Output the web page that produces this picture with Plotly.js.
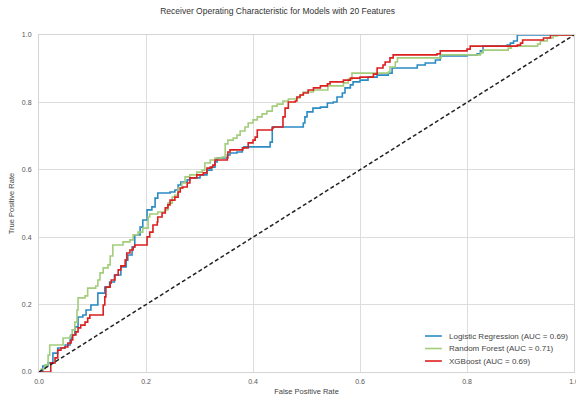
<!DOCTYPE html>
<html>
<head>
<meta charset="utf-8">
<script src="https://cdn.plot.ly/plotly-3.0.1.min.js"></script>
<style>html,body{margin:0;padding:0;background:#fff;}#chart{width:576px;height:402px;}</style>
</head>
<body>
<div id="chart"></div>
<script>
// Logistic Regression ROC
const lrFpr = [0.0,0.007,0.017,0.026,0.035,0.049,0.058,0.060,0.067,0.073,0.082,0.088,0.097,0.110,0.123,0.132,0.141,0.153,0.163,0.166,0.174,0.179,0.189,0.194,0.202,0.211,0.217,0.222,0.245,0.254,0.260,0.265,0.277,0.282,0.301,0.314,0.323,0.329,0.333,0.352,0.357,0.370,0.380,0.383,0.423,0.432,0.436,0.484,0.494,0.497,0.501,0.512,0.526,0.539,0.550,0.557,0.567,0.572,0.582,0.587,0.600,0.615,0.632,0.653,0.660,0.700,0.707,0.722,0.741,0.750,0.800,0.819,0.825,0.830,0.875,0.881,0.887,0.894,1.0];
const lrTpr = [0.0,0.018,0.027,0.056,0.071,0.080,0.095,0.110,0.134,0.163,0.169,0.184,0.199,0.234,0.252,0.267,0.288,0.312,0.332,0.347,0.371,0.407,0.430,0.451,0.481,0.490,0.516,0.531,0.534,0.540,0.555,0.564,0.570,0.576,0.585,0.599,0.608,0.623,0.635,0.644,0.650,0.653,0.665,0.668,0.668,0.682,0.727,0.727,0.739,0.757,0.772,0.783,0.786,0.798,0.801,0.816,0.828,0.843,0.852,0.861,0.866,0.875,0.881,0.887,0.902,0.902,0.911,0.917,0.926,0.938,0.941,0.944,0.953,0.967,0.970,0.976,0.982,1.0,1.0];
// Random Forest ROC
const rfFpr = [0.0,0.004,0.011,0.017,0.020,0.043,0.045,0.058,0.062,0.067,0.071,0.073,0.086,0.091,0.106,0.110,0.114,0.120,0.129,0.133,0.138,0.157,0.170,0.176,0.185,0.194,0.204,0.207,0.222,0.236,0.241,0.249,0.254,0.260,0.267,0.273,0.282,0.295,0.305,0.310,0.320,0.329,0.342,0.348,0.353,0.363,0.370,0.376,0.385,0.391,0.400,0.408,0.417,0.426,0.436,0.445,0.456,0.466,0.482,0.488,0.494,0.513,0.537,0.540,0.569,0.578,0.585,0.653,0.656,0.666,0.670,0.744,0.752,0.788,0.825,0.830,0.877,0.883,0.932,0.937,0.950,0.961,0.969,1.0];
const rfTpr = [0.0,0.009,0.021,0.050,0.080,0.080,0.101,0.107,0.125,0.148,0.184,0.220,0.226,0.249,0.255,0.273,0.294,0.309,0.318,0.344,0.377,0.386,0.392,0.407,0.415,0.427,0.460,0.469,0.475,0.481,0.501,0.519,0.525,0.546,0.561,0.579,0.585,0.593,0.599,0.620,0.629,0.635,0.638,0.677,0.688,0.694,0.703,0.715,0.727,0.739,0.748,0.757,0.766,0.774,0.789,0.795,0.804,0.810,0.813,0.822,0.831,0.837,0.837,0.849,0.858,0.869,0.887,0.890,0.905,0.920,0.932,0.932,0.941,0.941,0.947,0.955,0.961,0.967,0.973,0.982,0.991,0.997,1.0,1.0];
// XGBoost ROC
const xgFpr = [0.0,0.020,0.022,0.030,0.035,0.041,0.048,0.054,0.060,0.063,0.069,0.073,0.078,0.086,0.091,0.095,0.118,0.120,0.123,0.125,0.133,0.135,0.142,0.148,0.153,0.161,0.164,0.170,0.176,0.179,0.200,0.202,0.207,0.213,0.221,0.222,0.230,0.236,0.241,0.245,0.254,0.260,0.264,0.269,0.277,0.282,0.295,0.307,0.314,0.320,0.325,0.329,0.352,0.353,0.357,0.381,0.391,0.400,0.404,0.408,0.436,0.438,0.453,0.456,0.460,0.466,0.479,0.482,0.488,0.494,0.503,0.513,0.526,0.539,0.544,0.569,0.582,0.600,0.625,0.632,0.643,0.647,0.656,0.662,0.744,0.750,0.800,0.806,0.894,0.900,0.904,0.943,0.956,1.0];
const xgTpr = [0.0,0.0,0.027,0.042,0.065,0.071,0.074,0.086,0.095,0.110,0.119,0.131,0.139,0.148,0.160,0.169,0.169,0.199,0.223,0.252,0.264,0.273,0.288,0.303,0.315,0.332,0.353,0.362,0.371,0.377,0.377,0.401,0.415,0.436,0.445,0.460,0.472,0.487,0.496,0.510,0.519,0.534,0.546,0.549,0.561,0.576,0.585,0.591,0.605,0.608,0.614,0.629,0.635,0.653,0.659,0.665,0.680,0.688,0.697,0.718,0.724,0.727,0.727,0.757,0.783,0.801,0.804,0.816,0.822,0.828,0.837,0.843,0.849,0.855,0.861,0.866,0.872,0.875,0.884,0.902,0.911,0.920,0.932,0.941,0.944,0.953,0.958,0.967,0.970,0.976,0.985,0.991,1.0,1.0];
const chanceX = [0, 1];
const chanceY = [0, 1];
const names = ['Logistic Regression (AUC = 0.69)', 'Random Forest (AUC = 0.71)', 'XGBoost (AUC = 0.69)'];
const xTicks = [0, 0.2, 0.4, 0.6, 0.8, 1.0];
const yTicks = [0, 0.2, 0.4, 0.6, 0.8, 1.0];

const FONT = 'Liberation Sans, Arial, sans-serif';
const colors = ['#2b8bc3', '#a3cd7c', '#dc1f1f'];
const series = [[lrFpr, lrTpr], [rfFpr, rfTpr], [xgFpr, xgTpr]];
const traces = series.map((s, i) => ({
  x: s[0], y: s[1], name: names[i], mode: 'lines', showlegend: false,
  line: {color: colors[i], width: 1.6, shape: 'hv'}
}));
traces.push({x: chanceX, y: chanceY, mode: 'lines', showlegend: false, line: {color: '#222', width: 1.5, dash: '4px,2.5px'}});

// compact legend (matplotlib-like spacing), built from names/colors
const legX0 = 0.7215, legX1 = 0.753, legTextX = 0.7626, legY0 = 0.1068, legStep = 0.0371;
const shapes = names.map((n, i) => ({
  type: 'line', xref: 'paper', yref: 'paper',
  x0: legX0, x1: legX1, y0: legY0 - i * legStep, y1: legY0 - i * legStep,
  line: {color: colors[i], width: 1.6}
}));
const annotations = names.map((n, i) => ({
  text: n, xref: 'paper', yref: 'paper', x: legTextX, y: legY0 - i * legStep,
  xanchor: 'left', yanchor: 'middle', showarrow: false,
  font: {family: FONT, size: 8, color: '#444'}
}));

const axisCommon = {
  range: [0, 1], showgrid: true, gridcolor: '#dddddd', gridwidth: 1,
  zeroline: false, showline: true, linecolor: '#d4d4d4', linewidth: 1, mirror: true,
  ticks: '', tickfont: {family: FONT, size: 7, color: '#555'},
  tickformat: '.1f', ticklabeloverflow: 'allow'
};
const layout = {
  width: 576, height: 402,
  margin: {l: 39, r: 2, t: 35, b: 30},
  paper_bgcolor: '#fff', plot_bgcolor: '#fff',
  title: {text: 'Receiver Operating Characteristic for Models with 20 Features', x: 0.482, xanchor: 'center', y: 0.972, yanchor: 'middle', font: {family: FONT, size: 8.5, color: '#333'}},
  xaxis: Object.assign({}, axisCommon, {tickvals: xTicks, ticklabelstandoff: 3, title: {text: 'False Positive Rate', standoff: 4, font: {family: FONT, size: 7.5, color: '#444'}}}),
  yaxis: Object.assign({}, axisCommon, {tickvals: yTicks, ticklabelstandoff: 5, title: {text: 'True Positive Rate', standoff: 6, font: {family: FONT, size: 7.5, color: '#444'}}}),
  showlegend: false,
  shapes: shapes,
  annotations: annotations
};
Plotly.newPlot('chart', traces, layout, {displayModeBar: false, staticPlot: true});
</script>
</body>
</html>
